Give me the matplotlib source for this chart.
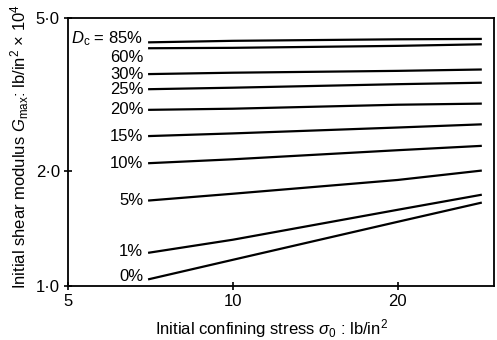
import matplotlib
matplotlib.use("Agg")
import matplotlib.pyplot as plt

plt.rcParams['font.family'] = ['Liberation Sans', 'DejaVu Sans']
plt.rcParams['mathtext.fontset'] = 'custom'
plt.rcParams['mathtext.rm'] = 'Liberation Sans'
plt.rcParams['mathtext.it'] = 'Liberation Sans:italic'
plt.rcParams['mathtext.bf'] = 'Liberation Sans:bold'

# Data
stress = [7.0, 10.0, 20.0, 28.5]  # lb/in^2
density_labels = ['85%', '60%', '30%', '25%', '20%', '15%', '10%', '5%', '1%', '0%']
G85 = [4.32, 4.36, 4.40, 4.41]
G60 = [4.17, 4.18, 4.23, 4.27]
G30 = [3.57, 3.60, 3.64, 3.67]
G25 = [3.26, 3.29, 3.36, 3.39]
G20 = [2.88, 2.90, 2.97, 2.99]
G15 = [2.46, 2.50, 2.59, 2.64]
G10 = [2.09, 2.14, 2.26, 2.32]
G5 = [1.67, 1.74, 1.89, 2.00]
G1 = [1.22, 1.32, 1.58, 1.73]
G0 = [1.04, 1.17, 1.47, 1.65]
series = [G85, G60, G30, G25, G20, G15, G10, G5, G1, G0]

x_ticks = [5, 10, 20]
x_ticklabels = ['5', '10', '20']
y_ticks = [1, 2, 5]
y_ticklabels = ['1·0', '2·0', '5·0']

# vertical nudges of labels (points) so crowded labels stay apart
label_dy = {'85%': 2.5, '60%': -6.5, '1%': 1, '0%': 2}

fig = plt.figure(figsize=(4.97, 3.40), dpi=100)
ax = fig.add_axes([0.137, 0.159, 0.857, 0.788])
ax.set_xscale('log')
ax.set_yscale('log')
ax.set_xlim(5, 30)
ax.set_ylim(1, 5)

for lab, vals in zip(density_labels, series):
    ax.plot(stress, vals, color='black', lw=1.6, solid_capstyle='butt')
    text = r'$D_{\mathrm{c}}$ = ' + lab if lab == '85%' else lab
    ax.annotate(text, xy=(stress[0], vals[0]), xytext=(-3.5, label_dy.get(lab, 0)),
                textcoords='offset points', ha='right', va='center',
                fontsize=12)

ax.set_xticks(x_ticks)
ax.set_xticklabels(x_ticklabels)
ax.set_yticks(y_ticks)
ax.set_yticklabels(y_ticklabels)
ax.minorticks_off()
ax.tick_params(axis='both', which='major', direction='inout', length=6,
               width=1.2, labelsize=12, pad=3)
for s in ax.spines.values():
    s.set_linewidth(1.3)

ax.set_xlabel(r'Initial confining stress $\sigma_0$ : lb/in$^2$', fontsize=12)
ax.set_ylabel(r'Initial shear modulus $G_{\mathrm{max}}$: lb/in$^2$ $\times$ 10$^4$',
              fontsize=12)
ax.xaxis.set_label_coords(0.478, -0.115)
ax.yaxis.set_label_coords(-0.088, 0.52)

fig.savefig('out.png', dpi=100)
